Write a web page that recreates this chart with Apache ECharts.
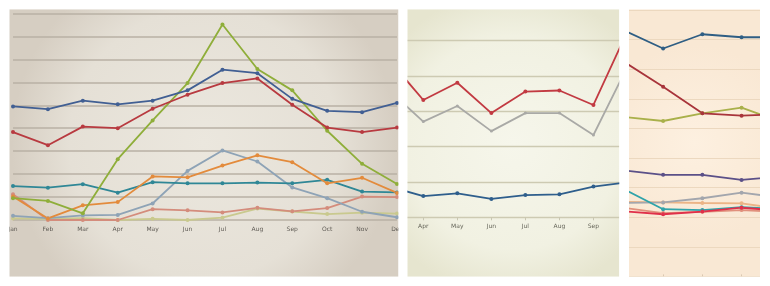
<!DOCTYPE html>
<html><head><meta charset="utf-8">
<script src="https://cdn.jsdelivr.net/npm/echarts@6/dist/echarts.min.js"></script>
<style>html,body{margin:0;padding:0;background:#fff}#c{width:770px;height:286px}</style>
</head><body><div id="c"></div>
<script>
// ---- Panel 1 (Jan–Dec) ----
const months1 = ['Jan','Feb','Mar','Apr','May','Jun','Jul','Aug','Sep','Oct','Nov','Dec'];
const p1Blue   = [4.95, 4.83, 5.2, 5.04, 5.2, 5.65, 6.55, 6.4, 5.28, 4.76, 4.7, 5.1];
const p1Red    = [3.83, 3.26, 4.07, 4.0, 4.85, 5.46, 5.97, 6.17, 5.02, 4.03, 3.83, 4.03];
const p1Green  = [0.95, 0.83, 0.29, 2.65, 4.34, 5.97, 8.52, 6.58, 5.65, 3.89, 2.45, 1.57];
const p1Teal   = [1.48, 1.41, 1.56, 1.19, 1.65, 1.6, 1.6, 1.63, 1.6, 1.75, 1.24, 1.2];
const p1Orange = [1.02, 0.07, 0.64, 0.78, 1.9, 1.86, 2.37, 2.82, 2.52, 1.6, 1.84, 1.18];
const p1Steel  = [0.18, 0.08, 0.2, 0.22, 0.72, 2.14, 3.03, 2.55, 1.42, 0.95, 0.36, 0.12];
const p1Salmon = [1.12, 0.0, 0.0, 0.0, 0.47, 0.42, 0.33, 0.53, 0.38, 0.52, 1.02, 1.0];
const p1Pale   = [0.07, 0.05, 0.08, 0.0, 0.05, 0.0, 0.1, 0.5, 0.37, 0.26, 0.32, 0.28];

// ---- Panel 2 (Mar–Oct, cropped to Apr–Sep) ----
const months2X = [3, 4, 5, 6, 7, 8, 9, 10];
const monthNames = {3:'Mar',4:'Apr',5:'May',6:'Jun',7:'Jul',8:'Aug',9:'Sep',10:'Oct'};
const p2Labels = [4, 5, 6, 7, 8, 9];
const p2Red  = [4.45, 3.32, 3.81, 2.95, 3.56, 3.59, 3.18, 5.27];
const p2Gray = [3.59, 2.71, 3.15, 2.44, 2.95, 2.95, 2.33, 4.27];
const p2Blue = [0.87, 0.6, 0.68, 0.52, 0.63, 0.65, 0.87, 0.99];

// ---- Panel 3 (cropped, unlabeled) ----
const p3X = [0, 1, 2, 3, 4];
const p3Blue    = [8.31, 7.7, 8.18, 8.08, 8.08];
const p3DarkRed = [7.25, 6.41, 5.51, 5.43, 5.48];
const p3Olive   = [5.39, 5.25, 5.51, 5.7, 5.23];
const p3Purple  = [3.58, 3.43, 3.43, 3.26, 3.37];
const p3Teal    = [2.95, 2.27, 2.24, 2.34, 2.28];
const p3Gray    = [2.48, 2.5, 2.64, 2.83, 2.66];
const p3Peach   = [2.52, 2.5, 2.48, 2.47, 2.28];
const p3Red     = [2.2, 2.1, 2.19, 2.32, 2.22];
const p3Salmon  = [2.32, 2.14, 2.18, 2.24, 2.18];

const chart = echarts.init(document.getElementById('c'), null, {renderer:'canvas'});
const zip = (xs, ys) => xs.map((x, i) => [x, ys[i]]);

function line(name, data, color, gi, opts) {
  return Object.assign({
    type: 'line', name, data, xAxisIndex: gi, yAxisIndex: gi,
    symbol: 'circle', symbolSize: 4, clip: true,
    lineStyle: { color, width: 1.8 }, itemStyle: { color },
    animation: false, z: 3
  }, opts || {});
}

const P1 = {x: 9.3, y: 9.3, w: 389.2, h: 267.4};
const P2 = {x: 407.3, y: 9.3, w: 212, h: 267.4};
const P3 = {x: 629, y: 9.3, w: 131, h: 267.4};

const option = {
  backgroundColor: '#ffffff',
  animation: false,
  graphic: [
    {type:'rect', z:-10, shape:{x:P1.x,y:P1.y,width:P1.w,height:P1.h},
     style:{fill:{type:'radial',x:0.5,y:0.5,r:0.72,colorStops:[{offset:0,color:'#ebe7de'},{offset:0.7,color:'#e5e0d6'},{offset:1,color:'#d6cec2'}]}}},
    {type:'rect', z:-10, shape:{x:P2.x,y:P2.y,width:P2.w,height:P2.h},
     style:{fill:{type:'radial',x:0.5,y:0.5,r:0.72,colorStops:[{offset:0,color:'#f6f6eb'},{offset:0.7,color:'#f1f1e2'},{offset:1,color:'#e6e5cf'}]}}},
    {type:'rect', z:-10, shape:{x:P3.x,y:P3.y,width:P3.w,height:P3.h},
     style:{fill:{type:'radial',x:0.5,y:0.5,r:0.75,colorStops:[{offset:0,color:'#fdf0e0'},{offset:1,color:'#f9e8d4'}]}}},
    // white masks for gaps
    {type:'rect', z:100, shape:{x:0,y:0,width:P1.x,height:286}, style:{fill:'#fff'}},
    {type:'rect', z:100, shape:{x:P1.x+P1.w,y:0,width:P2.x-(P1.x+P1.w),height:286}, style:{fill:'#fff'}},
    {type:'rect', z:100, shape:{x:P2.x+P2.w,y:0,width:P3.x-(P2.x+P2.w),height:286}, style:{fill:'#fff'}},
    {type:'rect', z:100, shape:{x:P3.x+P3.w,y:0,width:770-(P3.x+P3.w),height:286}, style:{fill:'#fff'}},
    {type:'rect', z:100, shape:{x:0,y:0,width:770,height:P1.y}, style:{fill:'#fff'}},
    {type:'rect', z:100, shape:{x:0,y:P1.y+P1.h,width:770,height:286-(P1.y+P1.h)}, style:{fill:'#fff'}}
  ],
  grid: [
    {left: 13, top: 13.5, width: 384, height: 206.5},
    {left: P2.x, top: 40.7, width: P2.w, height: 176.6},
    {left: P3.x, top: 10, width: P3.w, height: 266.4}
  ],
  xAxis: [
    {gridIndex:0, type:'category', data: months1, boundaryGap:false,
     axisLine:{show:false}, axisTick:{show:false}, splitLine:{show:false},
     axisLabel:{fontSize:6, color:'#5f5b55', margin:6, interval:0, fontFamily:'DejaVu Sans'}},
    {gridIndex:1, type:'value', min:3.53, max:9.76,
     axisLine:{show:false}, splitLine:{show:false},
     axisTick:{show:true, length:3, lineStyle:{color:'#c9c7b2'}, customValues:p2Labels},
     axisLabel:{fontSize:6, color:'#66665a', margin:6, customValues:p2Labels,
       formatter: v => monthNames[Math.round(v)] || '', fontFamily:'DejaVu Sans'}},
    {gridIndex:2, type:'value', min:0.13, max:3.47,
     axisLine:{show:false}, splitLine:{show:false}, axisLabel:{show:false},
     axisTick:{show:true, inside:true, length:2, lineStyle:{color:'#d9c7b0'}, customValues:[1,2,3]}}
  ],
  yAxis: [
    {gridIndex:0, type:'value', min:0, max:9, interval:1,
     axisLine:{show:false}, axisTick:{show:false}, axisLabel:{show:false},
     splitLine:{show:true, lineStyle:{color:'#b9b0a4', width:1.6}}},
    {gridIndex:1, type:'value', min:0, max:5, interval:1,
     axisLine:{show:false}, axisTick:{show:false}, axisLabel:{show:false},
     splitLine:{show:true, lineStyle:{color:'#cdcab2', width:1.4}}},
    {gridIndex:2, type:'value', min:0, max:9, interval:1,
     axisLine:{show:false}, axisTick:{show:false}, axisLabel:{show:false},
     splitLine:{show:true, lineStyle:{color:'#ecd8bf', width:1.2}}}
  ],
  series: [
    line('p1Pale', p1Pale, '#c9c98e', 0),
    line('p1Salmon', p1Salmon, '#d48c7c', 0),
    line('p1Steel', p1Steel, '#8ea3b6', 0),
    line('p1Teal', p1Teal, '#2f8796', 0),
    line('p1Orange', p1Orange, '#e38b3c', 0),
    line('p1Green', p1Green, '#8fae3a', 0),
    line('p1Red', p1Red, '#b83a40', 0),
    line('p1Blue', p1Blue, '#415f93', 0),

    line('p2Gray', zip(months2X, p2Gray), '#a9a9a6', 1, {symbolSize:3}),
    line('p2Red', zip(months2X, p2Red), '#c23a42', 1),
    line('p2Blue', zip(months2X, p2Blue), '#2e5e8c', 1),

    line('p3Salmon', zip(p3X, p3Salmon), '#e0907c', 2),
    line('p3Peach', zip(p3X, p3Peach), '#ecb486', 2),
    line('p3Gray', zip(p3X, p3Gray), '#a3a6ad', 2),
    line('p3Teal', zip(p3X, p3Teal), '#2fa3aa', 2),
    line('p3Red', zip(p3X, p3Red), '#e0304a', 2),
    line('p3Purple', zip(p3X, p3Purple), '#5b5088', 2),
    line('p3Olive', zip(p3X, p3Olive), '#a9b04a', 2),
    line('p3DarkRed', zip(p3X, p3DarkRed), '#a8343b', 2),
    line('p3Blue', zip(p3X, p3Blue), '#2f5e84', 2)
  ]
};
chart.setOption(option);
</script>
</body></html>
